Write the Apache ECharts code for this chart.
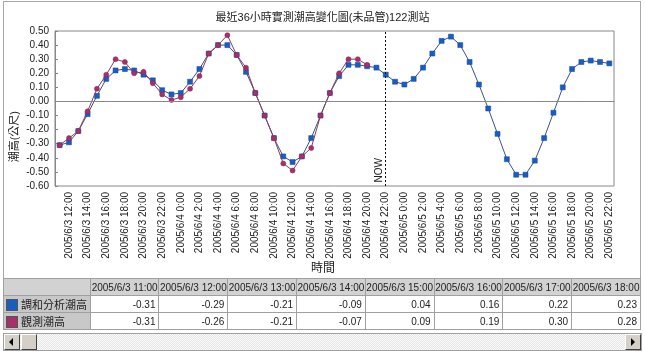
<!DOCTYPE html>
<html>
<head>
<meta charset="utf-8">
<script src="https://cdn.jsdelivr.net/npm/echarts@6/dist/echarts.min.js"></script>
<style>
body { margin: 0; background: #fff; font-family: Arial, "Liberation Sans", "Noto Sans CJK TC", sans-serif; }
#main { position: absolute; left: 0; top: 0; width: 645px; height: 278px; }
#frame { position: absolute; left: 3px; top: 1px; width: 636px; height: 276px; border: 1px solid #a8a8a8; pointer-events: none; }
#tbl { position: absolute; left: 3px; top: 278px; width: 638px; height: 55px; overflow: hidden; }
#tbl table { border-collapse: collapse; table-layout: fixed; font-size: 10px; color: #222; }
#tbl td { border: 1px solid #a0a0a0; height: 16px; padding: 0 3px; white-space: nowrap; overflow: hidden; }
#tbl tr.head td { background: #d2d2d2; text-align: center; padding: 0; }
#tbl td.rh { background: #c8c8c8; font-size: 11px; padding: 0 2px; }
#tbl td.num { text-align: right; background: #fff; }
.sw { display: inline-block; width: 10px; height: 10px; border: 1px solid #555; vertical-align: -2px; margin-right: 3px; }
#sb { position: absolute; left: 3px; top: 333px; width: 637px; height: 16px; border: 1px solid #a0a0a0;
      background: repeating-conic-gradient(#e6e6e6 0 25%, #fafafa 0 50%) 0 0 / 2px 2px; }
.btn { position: absolute; top: 0; width: 14px; height: 14px; background: #d4d0c8;
       border-top: 1px solid #fff; border-left: 1px solid #fff; border-right: 1px solid #404040; border-bottom: 1px solid #404040; }
.arrL { position: absolute; left: 4px; top: 3px; width: 0; height: 0; border-top: 4px solid transparent; border-bottom: 4px solid transparent; border-right: 4px solid #000; }
.arrR { position: absolute; left: 5px; top: 3px; width: 0; height: 0; border-top: 4px solid transparent; border-bottom: 4px solid transparent; border-left: 4px solid #000; }
</style>
</head>
<body>
<div id="main"></div>
<div id="frame"></div>
<div id="tbl"></div>
<div id="sb">
    <div class="btn" style="left:0"><div class="arrL"></div></div>
    <div class="btn" style="left:17px"></div>
    <div class="btn" style="right:0"><div class="arrR"></div></div>
</div>
<script>
// categories: hourly, 2005/6/3 11:00 .. 2005/6/5 22:00
const times = [
    '2005/6/3 11:00', '2005/6/3 12:00', '2005/6/3 13:00', '2005/6/3 14:00', '2005/6/3 15:00', '2005/6/3 16:00',
    '2005/6/3 17:00', '2005/6/3 18:00', '2005/6/3 19:00', '2005/6/3 20:00', '2005/6/3 21:00', '2005/6/3 22:00',
    '2005/6/3 23:00',
    '2005/6/4 0:00', '2005/6/4 1:00', '2005/6/4 2:00', '2005/6/4 3:00', '2005/6/4 4:00', '2005/6/4 5:00',
    '2005/6/4 6:00', '2005/6/4 7:00', '2005/6/4 8:00', '2005/6/4 9:00', '2005/6/4 10:00', '2005/6/4 11:00',
    '2005/6/4 12:00', '2005/6/4 13:00', '2005/6/4 14:00', '2005/6/4 15:00', '2005/6/4 16:00', '2005/6/4 17:00',
    '2005/6/4 18:00', '2005/6/4 19:00', '2005/6/4 20:00', '2005/6/4 21:00', '2005/6/4 22:00', '2005/6/4 23:00',
    '2005/6/5 0:00', '2005/6/5 1:00', '2005/6/5 2:00', '2005/6/5 3:00', '2005/6/5 4:00', '2005/6/5 5:00',
    '2005/6/5 6:00', '2005/6/5 7:00', '2005/6/5 8:00', '2005/6/5 9:00', '2005/6/5 10:00', '2005/6/5 11:00',
    '2005/6/5 12:00', '2005/6/5 13:00', '2005/6/5 14:00', '2005/6/5 15:00', '2005/6/5 16:00', '2005/6/5 17:00',
    '2005/6/5 18:00', '2005/6/5 19:00', '2005/6/5 20:00', '2005/6/5 21:00', '2005/6/5 22:00'
];

// 調和分析潮高 (prediction, whole range)
const harmonic = [
    -0.31, -0.29, -0.21, -0.09, 0.04, 0.16, 0.22, 0.23, 0.22, 0.19, 0.15, 0.08,
    0.05, 0.06, 0.14, 0.23, 0.34, 0.40, 0.40, 0.33, 0.21, 0.06, -0.10, -0.26,
    -0.39, -0.43, -0.39, -0.26, -0.10, 0.06, 0.18, 0.26, 0.26, 0.25, 0.24, 0.19,
    0.14, 0.12, 0.16, 0.24, 0.34, 0.43, 0.46, 0.40, 0.28, 0.12, -0.05, -0.23,
    -0.41, -0.52, -0.52, -0.42, -0.26, -0.08, 0.10, 0.23, 0.28, 0.29, 0.28, 0.27
];

// 觀測潮高 (observed, until 2005/6/4 20:00)
const observed = [
    -0.31, -0.26, -0.21, -0.07, 0.09, 0.19, 0.30, 0.28, 0.20, 0.21, 0.13, 0.05,
    0.01, 0.03, 0.09, 0.18, 0.34, 0.40, 0.47, 0.33, 0.24, 0.06, -0.10, -0.26,
    -0.44, -0.49, -0.39, -0.33, -0.10, 0.06, 0.20, 0.30, 0.30, 0.26
];

const nowTime = '2005/6/4 22:00';
const tableCols = 8;

const blue = '#1a5cc0';
const pink = '#a8306a';
const FONT = 'Arial, "Liberation Sans", "Noto Sans CJK TC", sans-serif';

var dom = document.getElementById('main');
var myChart = echarts.init(dom, null, { renderer: 'canvas' });

var option = {
    animation: false,
    textStyle: { fontFamily: FONT },
    title: {
        text: '最近36小時實測潮高變化圖(未品管)122測站',
        left: 'center',
        top: 7,
        textStyle: { fontSize: 11, fontWeight: 'normal', color: '#222', fontFamily: FONT }
    },
    grid: {
        left: 55, right: 31, top: 31, bottom: 92,
        show: true, borderColor: '#888', borderWidth: 1
    },
    xAxis: {
        type: 'category',
        data: times,
        boundaryGap: true,
        axisLine: { lineStyle: { color: '#888' } },
        axisTick: {
            inside: true, length: 3, alignWithLabel: true,
            interval: function (idx) { return idx % 2 === 1; },
            lineStyle: { color: '#888' }
        },
        axisLabel: {
            rotate: 90,
            fontSize: 10,
            color: '#222',
            margin: 6,
            interval: function (idx) { return idx % 2 === 1; }
        }
    },
    yAxis: {
        type: 'value',
        min: -0.6,
        max: 0.5,
        interval: 0.1,
        axisLine: { show: true, lineStyle: { color: '#888' } },
        axisTick: { show: true, inside: true, length: 3, lineStyle: { color: '#888' } },
        splitLine: { show: false },
        axisLabel: {
            fontSize: 10,
            color: '#222',
            margin: 6,
            formatter: function (v) { return v.toFixed(2); }
        }
    },
    graphic: [
        {
            type: 'text', left: 9, top: 111, rotation: Math.PI / 2,
            style: { text: '潮高(公尺)', fill: '#222', font: '11px ' + FONT }
        },
        {
            type: 'text', left: 311, top: 263,
            style: { text: '時間', fill: '#222', font: '12px ' + FONT }
        },
        {
            type: 'text', left: 374, top: 158, rotation: Math.PI / 2,
            style: { text: 'NOW', fill: '#222', font: '10px ' + FONT }
        }
    ],
    series: [
        {
            name: '調和分析潮高',
            type: 'line',
            data: harmonic,
            symbol: 'rect',
            symbolSize: 5,
            z: 3,
            lineStyle: { color: '#3a5288', width: 1 },
            itemStyle: { color: blue, borderColor: '#1048a0', borderWidth: 0.5 },
            markLine: {
                silent: true,
                symbol: 'none',
                label: { show: false },
                data: [
                    { yAxis: 0, lineStyle: { color: '#888', type: 'solid', width: 1 } },
                    { xAxis: nowTime, lineStyle: { color: '#111', type: [2, 2], width: 1 } }
                ]
            }
        },
        {
            name: '觀測潮高',
            type: 'line',
            data: observed,
            symbol: 'circle',
            symbolSize: 5,
            z: 4,
            lineStyle: { color: '#8a3a5e', width: 1 },
            itemStyle: { color: pink, borderColor: '#8a2055', borderWidth: 0.5 }
        }
    ]
};

myChart.setOption(option);
window.addEventListener('resize', myChart.resize);

// data table under the chart
function buildTable() {
    var html = '<table><colgroup><col style="width:87px">';
    for (var i = 0; i < tableCols; i++) html += '<col style="width:69px">';
    html += '</colgroup><tr class="head"><td class="rh"></td>';
    for (var i = 0; i < tableCols; i++) html += '<td>' + times[i] + '</td>';
    html += '</tr>';
    var rows = [
        { name: '調和分析潮高', color: blue, vals: harmonic },
        { name: '觀測潮高', color: pink, vals: observed }
    ];
    rows.forEach(function (r) {
        html += '<tr><td class="rh"><span class="sw" style="background:' + r.color + '"></span>' + r.name + '</td>';
        for (var i = 0; i < tableCols; i++) html += '<td class="num">' + r.vals[i].toFixed(2) + '</td>';
        html += '</tr>';
    });
    html += '</table>';
    document.getElementById('tbl').innerHTML = html;
}
buildTable();
</script>
</body>
</html>
